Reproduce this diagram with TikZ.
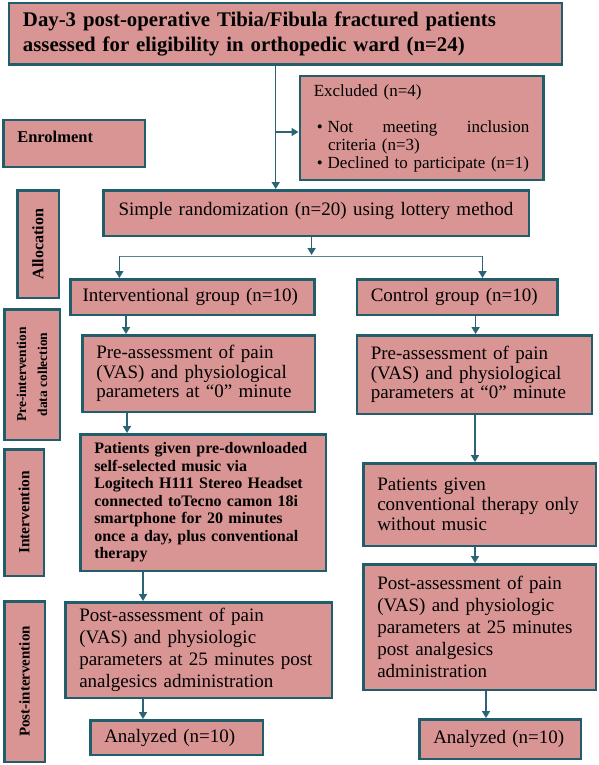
\documentclass[tikz,border=0pt]{standalone}
\usepackage{fontspec}
\setmainfont{Liberation Serif}
\usetikzlibrary{arrows.meta}
\definecolor{pinkbox}{HTML}{D99594}
\definecolor{tealline}{HTML}{215E6C}
\definecolor{tealarrow}{HTML}{2B6474}
\newcommand{\fs}[2]{\fontsize{#1}{#2}\selectfont}

\begin{document}
\begin{tikzpicture}[x=1pt,y=-1pt,
  box/.style={draw=tealline,fill=pinkbox,line width=2.5pt,inner xsep=14pt,inner ysep=0pt,align=left},
  side/.style={box,rotate=90,align=center,inner xsep=0pt},
  arr/.style={draw=tealarrow,line width=1.5pt,-{Triangle[width=8pt,length=7pt]}},
  branch/.style={draw=tealarrow!80!white,line width=1pt}]
  \useasboundingbox (0,0) rectangle (598,765);
  \node[box,font=\bfseries\fs{20.8}{25},text width=525pt,minimum height=61.5pt] (screen) at (285.5,34)
    {Day-3 post-operative Tibia/Fibula fractured patients\\assessed for eligibility in orthopedic ward (n=24)};
  \node[box,font=\fs{17}{18},text width=215.5pt,minimum height=103.5pt] (excl) at (421.5,128)
    {Excluded (n=4)\\[18pt]
     \hspace*{3pt}\textbullet\hspace{5pt}Not\hfill meeting\hfill inclusion\\
     \hspace*{14.3pt}criteria (n=3)\\
     \hspace*{3pt}\textbullet\hspace{5pt}Declined to participate (n=1)};
  \node[box,font=\bfseries\fs{16.5}{18},text width=113.5pt,minimum height=46.5pt] (enrol) at (74,143.5)
    {\raisebox{13pt}{Enrolment}};
  \node[box,font=\fs{19}{20},text width=397.5pt,minimum height=45.5pt,align=center] (rand) at (316,213)
    {\raisebox{8pt}{Simple randomization (n=20) using lottery method}};
  \node[side,font=\bfseries\fs{16}{18},minimum width=107.5pt,minimum height=41.5pt] (alloc) at (38,244) {Allocation};
  \node[box,font=\fs{19}{20},inner xsep=12pt,text width=220pt,minimum height=35.5pt] (intg) at (192.6,297) {Interventional group (n=10)};
  \node[box,font=\fs{19}{20},text width=172.7pt,minimum height=35.5pt] (ctrl) at (457.1,297) {Control group (n=10)};
  \node[box,font=\fs{19}{19.5},text width=204.5pt,minimum height=76.5pt] (preL) at (198.5,373.5)
    {Pre-assessment of pain\\(VAS) and physiological\\parameters at “0” minute};
  \node[box,font=\fs{19}{19.5},text width=207pt,minimum height=78.5pt] (preR) at (474.25,374.5)
    {Pre-assessment of pain\\(VAS) and physiological\\parameters at “0” minute};
  \node[side,font=\bfseries\fs{13.5}{21},minimum width=130.5pt,minimum height=55.5pt] (prelab) at (32,374.5)
    {Pre-intervention\\data collection};
  \node[box,font=\bfseries\fs{16}{17.5},text width=217.5pt,minimum height=136.5pt] (intL) at (203,502.5)
    {Patients given pre-downloaded\\self-selected music via\\Logitech H111 Stereo Headset\\connected toTecno camon 18i\\smartphone for 20 minutes\\once a day, plus conventional\\therapy};
  \node[side,font=\bfseries\fs{15.5}{18},minimum width=126.5pt,minimum height=39.5pt] (intlab) at (24,512.5) {Intervention};
  \node[box,font=\fs{19}{20},text width=204.5pt,minimum height=82.5pt] (intR) at (479.5,504.5)
    {Patients given\\conventional therapy only\\without music};
  \node[box,font=\fs{19}{22},text width=238.5pt,minimum height=95.5pt] (postL) at (198.5,650)
    {Post-assessment of pain\\(VAS) and physiologic\\parameters at 25 minutes post\\analgesics administration};
  \node[side,font=\bfseries\fs{15}{18},minimum width=160.5pt,minimum height=40.5pt] (postlab) at (24.5,681.5) {Post-intervention};
  \node[box,font=\fs{19}{20},text width=144.5pt,minimum height=34.5pt] (anaL) at (176.5,737.5) {Analyzed (n=10)};
  \node[box,font=\fs{19}{22},text width=204.5pt,minimum height=125.5pt] (postR) at (479.5,627)
    {Post-assessment of pain\\(VAS) and physiologic\\parameters at 25 minutes\\post analgesics\\administration};
  \node[box,font=\fs{19}{20},text width=133.5pt,minimum height=39.5pt] (anaR) at (500,739) {Analyzed (n=10)};
  \coordinate (split) at (275.7,132);
  \coordinate (fork) at (311.6,255);
  \coordinate (forkL) at (119.4,256);
  \coordinate (forkR) at (482.5,256);
  \draw[arr] (screen.south -| split) -- (rand.north -| split);
  \draw[arr] (split) -- (excl.west |- split);
  \draw[arr] (rand.south -| fork) -- (fork);
  \draw[branch] (forkL) -- (forkR);
  \draw[arr] (forkL) -- (intg.north -| forkL);
  \draw[arr] (forkR) -- (ctrl.north -| forkR);
  \draw[arr] (intg.south -| 126,0) -- (preL.north -| 126,0);
  \draw[arr] (preL.south -| 127,0) -- (intL.north -| 127,0);
  \draw[arr] (intL.south -| 143,0) -- (postL.north -| 143,0);
  \draw[arr] (postL.south -| 143,0) -- (anaL.north -| 143,0);
  \draw[arr] (ctrl.south -| 475.6,0) -- (preR.north -| 475.6,0);
  \draw[arr] (preR.south -| 475,0) -- (intR.north -| 475,0);
  \draw[arr] (intR.south -| 475,0) -- (postR.north -| 475,0);
  \draw[arr] (postR.south -| 486,0) -- (anaR.north -| 486,0);
\end{tikzpicture}
\end{document}
